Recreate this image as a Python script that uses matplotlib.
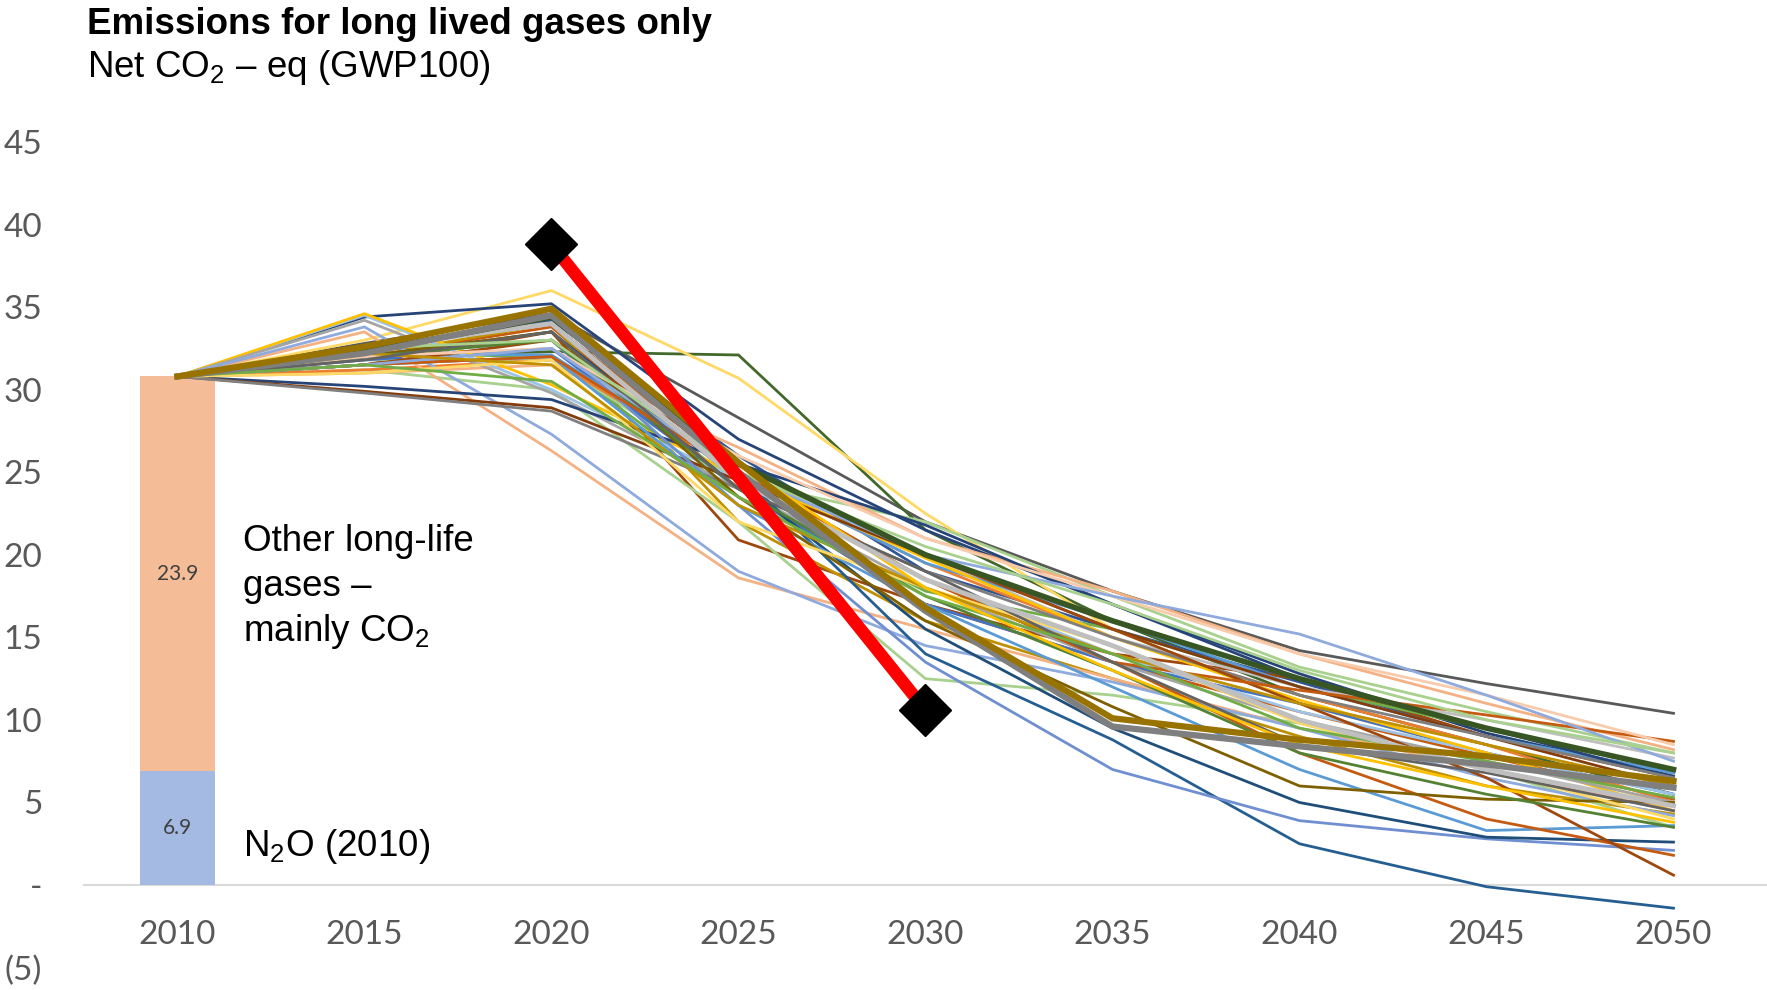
import numpy as np
import matplotlib
matplotlib.use("Agg")
import matplotlib.pyplot as plt

plt.rcParams['font.family'] = ['Lato', 'DejaVu Sans']
plt.rcParams['mathtext.fontset'] = 'custom'
plt.rcParams['mathtext.rm'] = 'Liberation Sans'

# categories
years = ['2010', '2015', '2020', '2025', '2030', '2035', '2040', '2045', '2050']

# 2010 stacked bar
n2o_2010 = 6.9
other_2010 = 23.9

# pathways (2010 ... 2050)
scenarios = [
    [30.8, 32.8, 34.6, 28.3, 22.0, 17.8, 14.2, 12.2, 10.4],
    [30.8, 32.0, 32.3, 32.1, 21.5, 16.0, 11.5, 8.5, 5.5],
    [30.8, 33.0, 36.0, 30.7, 22.5, 15.5, 11.0, 8.0, 4.8],
    [30.8, 34.4, 35.2, 27.0, 21.5, 17.0, 12.8, 9.2, 6.6],
    [30.8, 32.5, 34.2, 26.0, 19.0, 15.5, 12.3, 9.0, 6.8],
    [30.8, 32.0, 33.8, 24.0, 17.0, 13.5, 10.5, 7.8, 5.2],
    [30.8, 31.5, 33.5, 20.9, 17.0, 14.0, 12.5, 9.0, 6.5],
    [30.8, 32.0, 34.0, 22.0, 16.0, 12.5, 9.0, 6.0, 4.3],
    [30.8, 32.2, 32.0, 23.5, 17.8, 15.5, 12.0, 9.5, 7.0],
    [30.8, 31.8, 31.8, 24.5, 22.0, 17.5, 13.2, 10.5, 8.0],
    [30.8, 31.2, 30.0, 22.0, 12.5, 11.5, 9.8, 7.0, 3.5],
    [30.8, 31.0, 31.5, 26.5, 21.0, 17.8, 14.0, 11.0, 8.2],
    [30.8, 31.2, 31.8, 25.0, 19.5, 15.0, 11.5, 8.5, 5.0],
    [30.8, 31.5, 32.0, 25.5, 20.0, 15.0, 12.0, 10.0, 7.7],
    [30.8, 31.8, 32.5, 24.0, 17.0, 13.5, 11.0, 8.0, 5.5],
    [30.8, 32.2, 32.1, 25.0, 19.5, 16.0, 12.0, 9.0, 6.8],
    [30.8, 34.5, 30.0, 24.5, 18.5, 14.0, 10.5, 8.0, 5.5],
    [30.8, 34.6, 30.3, 24.8, 19.8, 15.0, 11.2, 8.0, 4.5],
    [30.8, 34.2, 29.8, 24.0, 18.0, 13.5, 10.0, 7.5, 5.0],
    [30.8, 33.5, 26.3, 18.6, 15.5, 12.5, 9.5, 7.0, 4.5],
    [30.8, 33.8, 27.3, 19.0, 14.5, 12.3, 9.5, 6.5, 4.2],
    [30.8, 30.2, 29.4, 25.5, 21.8, 17.0, 12.5, 9.5, 6.5],
    [30.8, 29.9, 28.9, 24.5, 20.0, 15.5, 12.0, 9.0, 6.0],
    [30.8, 29.8, 28.7, 24.0, 19.0, 15.0, 11.5, 9.0, 6.5],
    [30.8, 32.5, 34.0, 25.0, 14.0, 8.8, 2.5, -0.1, -1.4],
    [30.8, 32.0, 33.0, 23.0, 13.5, 7.0, 3.9, 2.8, 2.1],
    [30.8, 32.0, 33.5, 24.5, 15.5, 9.5, 5.0, 2.9, 2.6],
    [30.8, 31.5, 32.0, 23.0, 17.0, 12.0, 7.0, 3.3, 3.6],
    [30.8, 32.5, 34.0, 25.0, 18.5, 13.5, 8.0, 4.0, 1.8],
    [30.8, 31.5, 33.0, 25.5, 20.0, 15.5, 11.0, 6.5, 0.6],
    [30.8, 32.0, 33.5, 23.5, 16.0, 10.8, 6.0, 5.2, 5.0],
    [30.8, 32.0, 33.0, 24.0, 17.5, 13.0, 8.0, 5.5, 3.5],
    [30.8, 31.5, 32.0, 25.0, 18.5, 13.5, 11.8, 10.3, 8.7],
    [30.8, 32.0, 32.5, 26.0, 21.0, 17.5, 14.0, 11.5, 8.5],
    [30.8, 31.5, 32.5, 25.0, 20.0, 17.5, 15.2, 11.5, 7.5],
    [30.8, 31.0, 31.8, 22.0, 18.0, 14.5, 9.8, 7.0, 4.0],
    [30.8, 32.2, 31.5, 23.0, 18.0, 14.0, 11.0, 8.5, 6.0],
    [30.8, 31.8, 33.5, 24.0, 19.0, 13.5, 8.5, 6.8, 4.5],
    [30.8, 32.5, 33.0, 25.0, 20.5, 17.0, 13.0, 10.0, 8.0],
    [30.8, 31.5, 30.5, 23.5, 17.5, 14.0, 9.5, 7.5, 5.3],
    [30.8, 32.5, 35.0, 25.5, 18.0, 13.0, 8.5, 6.0, 3.8],
    [30.8, 32.5, 34.0, 24.5, 18.5, 14.5, 10.0, 7.0, 4.8],
    [30.8, 32.3, 34.4, 25.5, 20.0, 16.0, 12.5, 9.5, 7.0],
    [30.8, 32.2, 34.5, 25.0, 16.6, 9.6, 8.4, 7.3, 5.9],
    [30.8, 32.6, 34.9, 25.6, 16.8, 10.1, 8.8, 7.8, 6.3],
]

colors = ['#595959', '#43682B', '#FFD966', '#264478', '#2F5597', '#C55A11',
          '#9E480E', '#BF9000', '#70AD47', '#A9D18E', '#A9D18E', '#F4B183',
          '#ED7D31', '#BFBFBF', '#4472C4', '#5B9BD5', '#9DC3E6', '#FFC000',
          '#A5A5A5', '#F4B183', '#8FAADC', '#264478', '#843C0C', '#7F7F7F',
          '#255E91', '#6F8FD0', '#1F4E79', '#5B9BD5', '#C55A11', '#9E480E',
          '#7F6000', '#548235', '#C55A11', '#F8CBAD', '#8FAADC', '#FFD966',
          '#BF9000', '#636363', '#A9D18E', '#70AD47', '#FFC000', '#BFBFBF',
          '#375623', '#7F7F7F', '#997300']
widths = [2.0] * len(scenarios)
widths[41] = 3.5   # light gray, a bit heavier
widths[42] = 4.0   # dark green heavier
widths[43] = 4.5   # thick gray
widths[44] = 4.5   # thick gold

# the red line
target_years = [2, 4]
target_vals = [38.8, 10.6]

fig = plt.figure(figsize=(17.67, 9.9), dpi=100)
ax = fig.add_axes([0.0475, 0.0226, 0.9525, 0.834])

x = np.arange(len(years))

ax.bar(0, n2o_2010, width=0.404, color='#A4BAE3', zorder=1)
ax.bar(0, other_2010, width=0.404, bottom=n2o_2010, color='#F4BD97', zorder=1)
ax.text(0, n2o_2010 / 2, '6.9', ha='center', va='center', fontsize=15, color='#404040')
ax.text(0, n2o_2010 + other_2010 / 2, '23.9', ha='center', va='center', fontsize=15,
        color='#404040')

for vals, c, w in zip(scenarios, colors, widths):
    ax.plot(x, vals, color=c, lw=w, zorder=2, solid_joinstyle='miter')

ax.plot(target_years, target_vals, color='#FF0000', lw=9, zorder=3, solid_capstyle='butt')
ax.plot(target_years, target_vals, ls='none', marker='D', ms=26, color='black', zorder=4)

for s in ['top', 'right', 'left']:
    ax.spines[s].set_visible(False)
ax.spines['bottom'].set_position(('data', 0))
ax.spines['bottom'].set_color('#D9D9D9')
ax.spines['bottom'].set_linewidth(1.5)
ax.spines['bottom'].set_zorder(0)

ax.set_xlim(-0.5, 8.5)
ax.set_ylim(-5, 45)
ax.set_xticks(x)
ax.set_xticklabels(years)
ax.set_yticks(range(-5, 46, 5))
ax.set_yticklabels(['(5)', '-'] + [str(v) for v in range(5, 46, 5)])
ax.tick_params(axis='both', labelsize=24, labelcolor='#595959', length=0)
ax.tick_params(axis='x', pad=25)
ax.tick_params(axis='y', pad=30)

txt = dict(family='Liberation Sans', fontsize=26.5, color='black')
ax.text(0.353, 20.2, 'Other long-life', va='baseline', **txt)
ax.text(0.353, 17.5, 'gases \u2013', va='baseline', **txt)
ax.text(0.353, 14.8, 'mainly CO$_\\mathregular{2}$', va='baseline', **txt)
ax.text(0.353, 1.73, 'N$_\\mathregular{2}$O (2010)', va='baseline', **txt)

fig.text(0.049, 0.966, 'Emissions for long lived gases only', fontsize=26.5,
         fontweight='bold', family='Liberation Sans', va='baseline')
fig.text(0.049, 0.9226, 'Net CO$_\\mathregular{2}$ \u2013 eq (GWP100)', fontsize=26.5,
         family='Liberation Sans', va='baseline')

fig.savefig('out.png', dpi=100)
